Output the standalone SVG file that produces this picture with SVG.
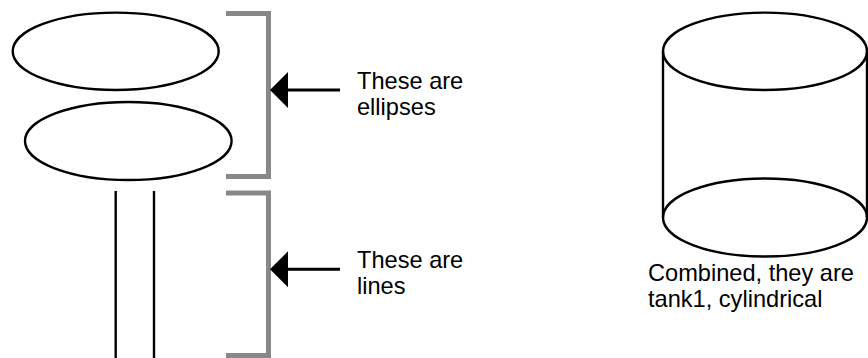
<svg xmlns="http://www.w3.org/2000/svg" width="868" height="358" viewBox="0 0 868 358">
<style>
.shape{fill:none;stroke:#000;stroke-width:2.4}
.bracket{fill:none;stroke:#888;stroke-width:5}
.conn{fill:none;stroke:#000;stroke-width:3}
.head{fill:#000;stroke:none}
text{font-family:"Liberation Sans",Arial,sans-serif;font-size:23.6px;fill:#000}
</style>
<rect width="868" height="358" fill="#fff"/>
<g id="ellipse1"><ellipse class="shape" cx="115.7" cy="51.3" rx="103" ry="38.7"/></g>
<g id="ellipse2"><ellipse class="shape" cx="128.3" cy="141" rx="103.3" ry="39"/></g>
<g id="lines">
<line class="shape" x1="115.7" y1="191" x2="115.7" y2="358"/>
<line class="shape" x1="154" y1="191" x2="154" y2="358"/>
</g>
<g id="bracket1"><path class="bracket" d="M226,13.5 H268.5 V176.5 H226"/></g>
<g id="bracket2"><path class="bracket" d="M226,193 H268.5 V355.5 H226"/></g>
<g id="connectors">
<line class="conn" x1="286" y1="90" x2="340" y2="90"/>
<polygon class="head" points="270,90 288,72 288,108"/>
<line class="conn" x1="286" y1="269.3" x2="340" y2="269.3"/>
<polygon class="head" points="270,269.3 288,251.3 288,287.3"/>
</g>
<g id="label1"><text x="357" y="88.5">These are</text><text x="357" y="115">ellipses</text></g>
<g id="label2"><text x="357" y="267.5">These are</text><text x="357" y="294">lines</text></g>
<g id="tank1">
<ellipse class="shape" cx="765" cy="51.3" rx="102" ry="38.7"/>
<path class="shape" d="M663,51.3 V217.5 M867,51.3 V217.5"/>
<ellipse class="shape" cx="765" cy="217.5" rx="102" ry="39"/>
<text x="648" y="280.5">Combined, they are</text>
<text x="648" y="307">tank1, cylindrical</text>
</g>
</svg>
